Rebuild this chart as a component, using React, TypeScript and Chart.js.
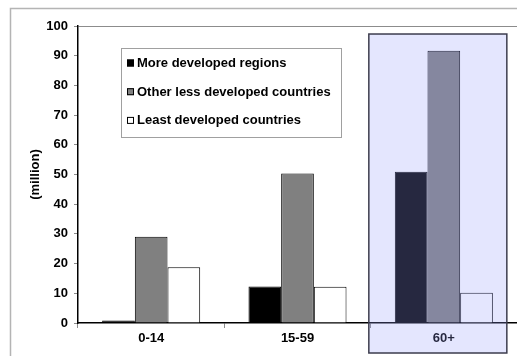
import { useEffect, useRef } from "react";
import { Chart, registerables } from "chart.js";

Chart.register(...registerables);

// Population (million) by broad age group
const categories = ["0-14", "15-59", "60+"];
const seriesNames = [
  "More developed regions",
  "Other less developed countries",
  "Least developed countries",
];
const moreDeveloped = [0.8, 12.3, 50.9];
const otherLessDeveloped = [29.0, 50.3, 91.7];
const leastDeveloped = [18.8, 12.2, 10.2];
const seriesColors = ["#000000", "#808080", "#ffffff"];
const yMin = 0;
const yMax = 100;
const yStep = 10;
const yTitle = "(million)";
const highlightedCategory = "60+";

const FONT = "'Liberation Sans', Arial, sans-serif";

// Light grey outer frame of the chart object
const framePlugin = {
  id: "frame",
  beforeDraw(chart: any) {
    const { ctx, width, height } = chart;
    ctx.save();
    ctx.fillStyle = "#ffffff";
    ctx.fillRect(0, 0, width, height);
    ctx.strokeStyle = "#b4b4b4";
    ctx.lineWidth = 1.5;
    ctx.beginPath();
    ctx.moveTo(10.5, height);
    ctx.lineTo(10.5, 8.5);
    ctx.lineTo(width, 8.5);
    ctx.stroke();
    ctx.restore();
  },
};

// Boxed legend placed inside the plot area
const boxLegendPlugin = {
  id: "boxLegend",
  afterDatasetsDraw(chart: any) {
    const { ctx, chartArea } = chart;
    const x0 = chartArea.left + 43;
    const y0 = chartArea.top + 22;
    const w = 220;
    const h = 89;
    ctx.save();
    ctx.fillStyle = "#ffffff";
    ctx.fillRect(x0, y0, w, h);
    ctx.strokeStyle = "#a0a0a0";
    ctx.lineWidth = 1;
    ctx.strokeRect(x0 + 0.5, y0 + 0.5, w, h);
    ctx.font = `bold 13px ${FONT}`;
    ctx.textBaseline = "middle";
    ctx.textAlign = "left";
    chart.data.datasets.forEach((ds: any, i: number) => {
      const cy = y0 + 15 + i * 28.7;
      ctx.fillStyle = ds.backgroundColor;
      ctx.fillRect(x0 + 6, cy - 3.5, 7, 7);
      ctx.strokeStyle = "#000000";
      ctx.strokeRect(x0 + 6.5, cy - 3, 6, 6);
      ctx.fillStyle = "#000000";
      ctx.fillText(ds.label, x0 + 16, cy + 0.5);
    });
    ctx.restore();
  },
};

// Translucent lavender box marking one age group
const highlightPlugin = {
  id: "highlight",
  afterDraw(chart: any) {
    const { ctx, height } = chart;
    const xs = chart.scales.x;
    const ys = chart.scales.y;
    const idx = categories.indexOf(highlightedCategory);
    const cx = xs.getPixelForValue(idx);
    const left = cx - 75;
    const right = cx + 63;
    const top = ys.getPixelForValue(97.3);
    const bottom = height - 3;
    ctx.save();
    ctx.fillStyle = "rgba(149, 156, 251, 0.255)";
    ctx.fillRect(left, top, right - left, bottom - top);
    ctx.strokeStyle = "#3c3c4e";
    ctx.lineWidth = 1.5;
    ctx.strokeRect(left, top, right - left, bottom - top);
    ctx.restore();
  },
};

export default function App() {
  const canvasRef = useRef<HTMLCanvasElement | null>(null);

  useEffect(() => {
    if (!canvasRef.current) return;
    const tickFont = { family: FONT, size: 13, weight: "bold" as const };
    const chart = new Chart(canvasRef.current, {
      type: "bar",
      data: {
        labels: categories,
        datasets: [moreDeveloped, otherLessDeveloped, leastDeveloped].map(
          (values, i) => ({
            label: seriesNames[i],
            data: values,
            backgroundColor: seriesColors[i],
            borderColor: "#000000",
            borderWidth: 1,
            categoryPercentage: 0.67,
            barPercentage: 1,
          })
        ),
      },
      options: {
        animation: false,
        responsive: false,
        layout: { padding: { top: 26, left: 0, right: 0, bottom: 0 } },
        plugins: {
          legend: { display: false },
          tooltip: { enabled: false },
          title: { display: false },
        },
        scales: {
          x: {
            ticks: { color: "#000000", font: tickFont, padding: 3 },
            grid: {
              offset: true,
              drawOnChartArea: false,
              tickLength: 5,
              tickColor: "#8c8c8c",
            },
            border: { color: "#000000", width: 1.5 },
            afterFit: (s: any) => {
              s.height = 33;
            },
          },
          y: {
            min: yMin,
            max: yMax,
            ticks: {
              stepSize: yStep,
              color: "#000000",
              font: tickFont,
              padding: 6,
            },
            grid: {
              color: (c: any) =>
                c.tick && c.tick.value === yMax ? "#8c8c8c" : "rgba(0,0,0,0)",
              tickColor: "#8c8c8c",
              tickLength: 4,
            },
            border: { color: "#000000", width: 1.5 },
            title: {
              display: true,
              text: yTitle,
              color: "#000000",
              font: tickFont,
              padding: { top: 28, bottom: 0 },
            },
            afterFit: (s: any) => {
              s.width = 78;
            },
          },
        },
      },
      plugins: [framePlugin, boxLegendPlugin, highlightPlugin],
    });
    return () => chart.destroy();
  }, []);

  return (
    <canvas
      ref={canvasRef}
      width={517}
      height={356}
      style={{ position: "absolute", left: 0, top: 0, display: "block" }}
    />
  );
}
